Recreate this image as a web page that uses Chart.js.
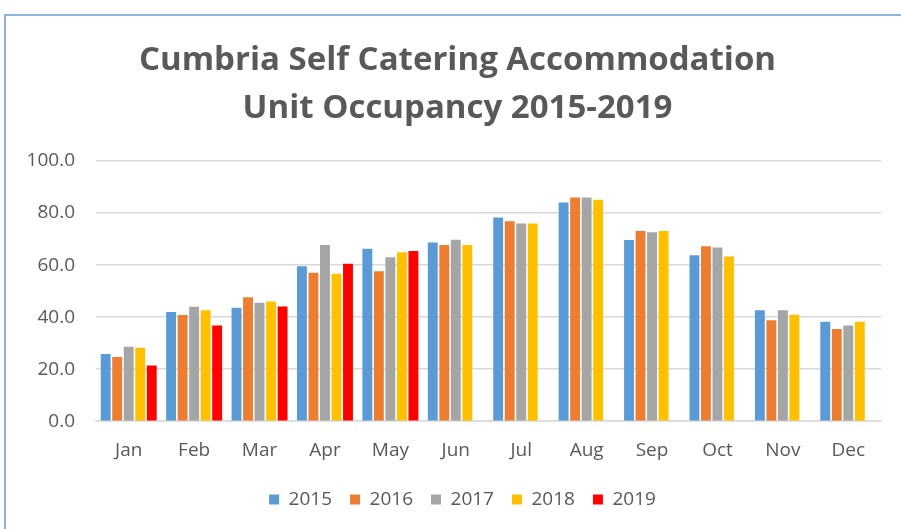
<!DOCTYPE html>
<html>
<head>
<meta charset="utf-8">
<script src="https://cdn.jsdelivr.net/npm/chart.js@4.4.1/dist/chart.umd.min.js"></script>
<style>
  html, body { margin: 0; padding: 0; background: #fff; overflow: hidden; }
  #frame {
    position: absolute; left: 4px; top: 14px;
    width: 920px; height: 540px;
    border: 2px solid #8db3d9; box-sizing: border-box;
  }
  #wrap { position: absolute; left: 0; top: 0; width: 901px; height: 529px; }
</style>
</head>
<body>
<div id="frame"></div>
<div id="wrap"><canvas id="chart"></canvas></div>
<script>
// months along the bottom
const months = ["Jan", "Feb", "Mar", "Apr", "May", "Jun", "Jul", "Aug", "Sep", "Oct", "Nov", "Dec"];

// unit occupancy % per year
const occ2015 = [25.8, 42.0, 43.6, 59.6, 66.3, 68.7, 78.3, 84.1, 69.6, 63.8, 42.6, 38.2];
const occ2016 = [24.7, 40.8, 47.6, 57.1, 57.6, 67.7, 76.9, 86.0, 73.1, 67.2, 38.8, 35.4];
const occ2017 = [28.6, 44.0, 45.5, 67.7, 63.0, 69.7, 76.0, 86.0, 72.6, 66.8, 42.6, 36.8];
const occ2018 = [28.2, 42.6, 46.0, 56.7, 64.9, 67.7, 76.0, 85.1, 73.1, 63.3, 40.9, 38.2];
const occ2019 = [21.4, 36.8, 44.1, 60.5, 65.4, null, null, null, null, null, null, null];

const yTicks = [0, 20, 40, 60, 80, 100];

const txt = "#595959";
const fontFam = "'Open Sans', sans-serif";

function ds(label, data, color) {
  return {
    label: label,
    data: data,
    backgroundColor: color,
    borderWidth: 0,
    categoryPercentage: 0.88,
    barPercentage: 0.86
  };
}

// title and legend sit a bit right of the plot centre in the original
const nudge = {
  id: "nudge",
  afterLayout(chart) {
    chart.titleBlock.left += 17;
    chart.titleBlock.right += 17;
    chart.legend.left += 22;
    chart.legend.right += 22;
  }
};

const ctx = document.getElementById("chart");
new Chart(ctx, {
  type: "bar",
  data: {
    labels: months,
    datasets: [
      ds("2015", occ2015, "#5b9bd5"),
      ds("2016", occ2016, "#ed7d31"),
      ds("2017", occ2017, "#a5a5a5"),
      ds("2018", occ2018, "#ffc000"),
      ds("2019", occ2019, "#ff0000")
    ]
  },
  plugins: [nudge],
  options: {
    responsive: true,
    maintainAspectRatio: false,
    animation: false,
    layout: { padding: { left: 0, right: 20, top: 0, bottom: 10 } },
    plugins: {
      title: {
        display: true,
        text: ["Cumbria Self Catering Accommodation", "Unit Occupancy 2015-2019"],
        color: txt,
        font: { family: fontFam, size: 33, weight: "bold", lineHeight: 1.455 },
        padding: { top: 37, bottom: 28 }
      },
      legend: {
        position: "bottom",
        labels: {
          color: txt,
          boxWidth: 10,
          boxHeight: 10,
          padding: 18,
          font: { family: fontFam, size: 19 }
        }
      },
      tooltip: { enabled: false }
    },
    scales: {
      x: {
        grid: { display: false, drawTicks: false },
        border: { color: "#d9d9d9", width: 1.5 },
        ticks: { color: txt, padding: 18, font: { family: fontFam, size: 19 } },
        afterFit: (s) => { s.height -= 8; }
      },
      y: {
        min: 0,
        max: 100,
        afterBuildTicks: (axis) => { axis.ticks = yTicks.map(v => ({ value: v })); },
        afterFit: (s) => { s.width = 96; },
        grid: { color: "#d9d9d9", lineWidth: 1.5, drawTicks: false },
        border: { display: false },
        ticks: {
          color: txt,
          padding: 21,
          font: { family: fontFam, size: 19 },
          callback: (v) => Number(v).toFixed(1)
        }
      }
    }
  }
});
</script>
</body>
</html>
